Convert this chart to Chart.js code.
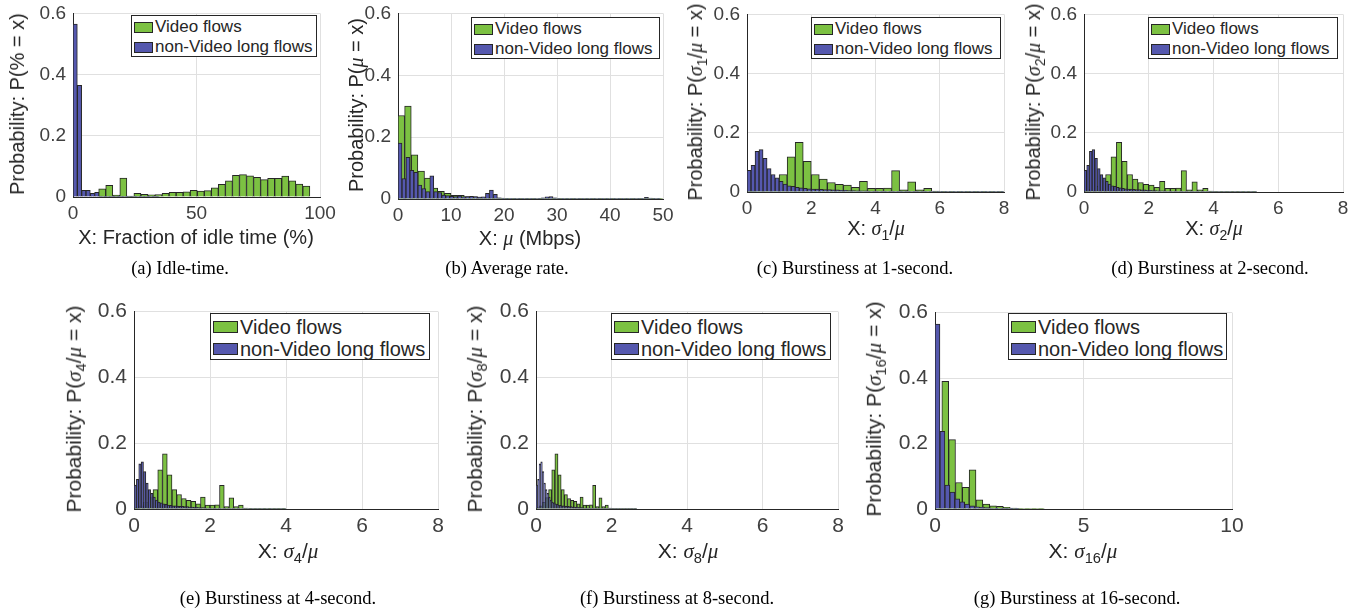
<!DOCTYPE html>
<html><head><meta charset="utf-8">
<script src="https://cdn.jsdelivr.net/npm/chart.js@4.4.1/dist/chart.umd.min.js"></script>
<style>
html,body{margin:0;padding:0;background:#fff;}
#fig{position:relative;width:1371px;height:614px;overflow:hidden;font-family:"Liberation Sans",Arial,sans-serif;color:#262626;}
#fig canvas{position:absolute;}
.legend{position:absolute;background:#fff;border:1px solid #262626;box-sizing:border-box;}
.item{position:absolute;left:2px;white-space:nowrap;display:flex;align-items:center;}
.sw{display:inline-block;box-sizing:border-box;border:1px solid #262626;margin-right:2px;}
.ytitle{position:absolute;white-space:nowrap;transform:translate(-50%,-50%) rotate(-90deg);line-height:1.2;}
.xtitle{position:absolute;white-space:nowrap;transform:translate(-50%,-50%);line-height:1.2;}
.cap{position:absolute;white-space:nowrap;transform:translate(-50%,-50%);font-family:"Liberation Serif","Times New Roman",serif;font-size:18.5px;color:#000;}
.m{font-family:"Liberation Serif",serif;font-style:italic;}
sub{font-size:70%;line-height:0;vertical-align:-0.35em;}
</style></head>
<body><div id="fig"></div>
<script>
// ---------- shared labels / ticks ----------
const seriesNames = ['Video flows', 'non-Video long flows'];
const yTicks = [0, 0.2, 0.4, 0.6];

// ---------- (a) idle time ----------
const idleTicks = [0, 50, 100];
const idleVideoStart = 10.4, idleVideoWidth = 2.85;
const idleVideo = [0.027,0.038,0.006,0.062,0.003,0.012,0.009,0.007,0.008,0.012,0.015,0.015,0.017,0.022,0.019,
                   0.021,0.030,0.041,0.053,0.071,0.073,0.069,0.064,0.057,0.061,0.061,0.068,0.053,0.042,0.036];
const idleOtherStart = 0, idleOtherWidth = 1.75;
const idleOther = [0.565,0.365,0.022,0.022,0.012,0.015,0.003,0.002,0.002,0.002,0.001,0.002,0.001,0.001,0.002,
                   0.001,0.001,0.001,0.002,0.001];

// ---------- (b) average rate ----------
const rateTicks = [0, 10, 20, 30, 40, 50];
const rateVideoStart = 0, rateVideoWidth = 1.25;
const rateVideo = [0.270,0.300,0.143,0.090,0.068,0.035,0.025,0.018,0.012,0.012,0.008,0.007,0.006,0.005,0.004,
                   0.003,0.002,0.002,0.002,0.002,0.001,0.001,0.002,0.001,0.001,0.001,0.001,0.001,0.001,0.001,
                   0.001,0.001,0.001,0.001,0.001,0.001,0.001,0.001,0.001,0.001];
const rateOtherStart = 0, rateOtherWidth = 0.75;
const rateOther = [0.181,0.066,0.135,0.093,0.086,0.045,0.034,0.024,0.075,0.024,
                   0.021,0.013,0.011,0.009,0.008,0.010,0.007,0.008,0.009,0.008,
                   0.006,0.007,0.018,0.029,0.015,0.004,0.002,0.002,0.002,0.001,
                   0.002,0.001,0.001,0.002,0.001,0.002,0.004,0.007,0.008,0.004,
                   0.001,0.001,0.002,0.001,0.001,0.001,0.001,0.002,0.001,0.001,
                   0.001,0.001,0.001,0.001,0.001,0.001,0.001,0.001,0.001,0.001,
                   0.001,0.001,0.005,0.003,0.001,0.001];

// ---------- (c)-(f) burstiness: same bin counts, bin widths differ per time scale ----------
const burstTicks = [0, 2, 4, 6, 8];
const burstVideo = [0.004,0.010,0.020,0.035,0.059,0.119,0.168,0.104,0.059,0.044,0.032,0.026,0.023,0.016,0.036,0.012,
                    0.012,0.013,0.072,0.007,0.034,0.007,0.012,0.003,0.002,0.002,0.002,0.001,0.001,0.001,0.001,0.001];
const burstOther = [0.073,0.090,0.137,0.143,0.114,0.079,0.059,0.048,0.036,0.027,0.021,0.019,0.016,0.014,0.012,0.011,
                    0.010,0.010,0.009,0.008,0.008,0.007,0.007,0.006,0.006,0.005,0.005,0.004,0.004,0.004,0.003,0.003,
                    0.003,0.003,0.002,0.002,0.002,0.002,0.002,0.002,0.002,0.001,0.001,0.001,0.001,0.001,0.001,0.001,
                    0.001,0.001,0.001,0.001,0.001,0.001,0.001,0.001,0.001,0.001,0.001,0.001,0.001,0.001,0.001,0.001];
const burstVideoWidth = { s1: 0.25, s2: 1/6, s4: 0.125, s8: 1/12 };
const burstOtherWidth = { s1: 0.125, s2: 1/12, s4: 0.0625, s8: 1/24 };

// ---------- (g) burstiness at 16 s ----------
const b16Ticks = [0, 5, 10];
const b16VideoStart = 0, b16VideoWidth = 0.23;
const b16Video = [0.050,0.390,0.212,0.081,0.066,0.120,0.028,0.015,0.010,0.008,0.005,0.003,0.002,0.002,0.001,0.001];
const b16OtherStart = 0, b16OtherWidth = 1/6;
const b16Other = [0.565,0.237,0.073,0.052,0.031,0.022,0.015,0.010,0.007,0.005,0.004,0.003,0.002,0.002,0.001,0.001,0.001];

// ---------- styling ----------
const videoColor = '#7cc142', otherColor = '#5558ae', edgeColor = '#262626';
const gridColor = '#e0e0e0', axisColor = '#262626', tickColor = '#404040';
const PT = 16, PR = 24, YW = 60, XH = 34;

const sig = (k) => '<span class="m">σ</span><sub>' + k + '</sub>/<span class="m">μ</span>';
const panels = [
  {L:73,T:11,R:320,B:197,xMax:100,xTicks:idleTicks,row:1,
   video:[idleVideoStart,idleVideoWidth,idleVideo],other:[idleOtherStart,idleOtherWidth,idleOther],
   yt:'Probability: P(% = x)',ytx:17,xt:'X: Fraction of idle time (%)',xtx:196,xty:237,
   cap:'(a) Idle-time.',capx:180,capy:268,leg:[131,15,186]},
  {L:398,T:11,R:663,B:199,xMax:50,xTicks:rateTicks,row:1,
   video:[rateVideoStart,rateVideoWidth,rateVideo],other:[rateOtherStart,rateOtherWidth,rateOther],
   yt:'Probability: P(<span class="m">μ</span> = x)',ytx:356,xt:'X: <span class="m">μ</span> (Mbps)',xtx:530,xty:238,
   cap:'(b) Average rate.',capx:507,capy:268,leg:[471,17,189]},
  {L:747,T:12,R:1004,B:192,xMax:8,xTicks:burstTicks,row:1,
   video:[0,burstVideoWidth.s1,burstVideo],other:[0,burstOtherWidth.s1,burstOther],
   yt:'Probability: P('+sig(1)+' = x)',ytx:695,xt:'X: '+sig(1),xtx:876,xty:228,
   cap:'(c) Burstiness at 1-second.',capx:855,capy:268,leg:[811,17,190]},
  {L:1084,T:12,R:1343,B:192,xMax:8,xTicks:burstTicks,row:1,
   video:[0,burstVideoWidth.s2,burstVideo],other:[0,burstOtherWidth.s2,burstOther],
   yt:'Probability: P('+sig(2)+' = x)',ytx:1033,xt:'X: '+sig(2),xtx:1214,xty:228,
   cap:'(d) Burstiness at 2-second.',capx:1210,capy:268,leg:[1148,17,190]},
  {L:134,T:308,R:438,B:509,xMax:8,xTicks:burstTicks,row:2,
   video:[0,burstVideoWidth.s4,burstVideo],other:[0,burstOtherWidth.s4,burstOther],
   yt:'Probability: P('+sig(4)+' = x)',ytx:74,xt:'X: '+sig(4),xtx:288,xty:551,
   cap:'(e) Burstiness at 4-second.',capx:278,capy:598,leg:[210,313,220]},
  {L:536,T:308,R:838,B:509,xMax:8,xTicks:burstTicks,row:2,
   video:[0,burstVideoWidth.s8,burstVideo],other:[0,burstOtherWidth.s8,burstOther],
   yt:'Probability: P('+sig(8)+' = x)',ytx:475,xt:'X: '+sig(8),xtx:688,xty:551,
   cap:'(f) Burstiness at 8-second.',capx:677,capy:598,leg:[611,313,220]},
  {L:935,T:309,R:1232,B:509,xMax:10,xTicks:b16Ticks,row:2,
   video:[b16VideoStart,b16VideoWidth,b16Video],other:[b16OtherStart,b16OtherWidth,b16Other],
   yt:'Probability: P('+sig(16)+' = x)',ytx:874,xt:'X: '+sig(16),xtx:1083,xty:551,
   cap:'(g) Burstiness at 16-second.',capx:1077,capy:598,leg:[1008,313,219]}
];

const fig = document.getElementById('fig');
function bins(start, width, vals){ return vals.map((v,i)=>({x: start + width*(i+0.5), y: v})); }
function el(tag, cls, html, style){ const e=document.createElement(tag); if(cls) e.className=cls; if(html!=null) e.innerHTML=html; Object.assign(e.style, style||{}); fig.appendChild(e); return e; }

panels.forEach(p => {
  const r1 = p.row === 1;
  const tickSize = r1 ? 19 : 21, titleSize = r1 ? 20 : 21, legSize = r1 ? 17 : 20;
  const cv = document.createElement('canvas');
  const w = p.R - p.L + YW + PR, h = p.B - p.T + PT + XH;
  cv.width = w; cv.height = h;
  cv.style.left = (p.L - YW) + 'px'; cv.style.top = (p.T - PT) + 'px';
  cv.style.width = w + 'px'; cv.style.height = h + 'px';
  fig.appendChild(cv);
  const font = {family: '"Liberation Sans", Arial, sans-serif', size: tickSize};
  const barOpts = {borderColor: edgeColor, borderWidth: 1, barPercentage: 1, categoryPercentage: 1, grouped: false};
  new Chart(cv.getContext('2d'), {
    type: 'bar',
    data: { datasets: [
      Object.assign({label: seriesNames[1], data: bins(...p.other), xAxisID: 'x2', yAxisID: 'y', backgroundColor: otherColor, order: 0}, barOpts),
      Object.assign({label: seriesNames[0], data: bins(...p.video), xAxisID: 'x', yAxisID: 'y', backgroundColor: videoColor, order: 1}, barOpts)
    ]},
    options: {
      responsive: false, animation: false, devicePixelRatio: 1,
      layout: {padding: {left: 0, top: PT, right: PR, bottom: 0}},
      plugins: {legend: {display: false}, tooltip: {enabled: false}},
      scales: {
        x: {type: 'linear', min: 0, max: p.xMax, offset: false,
            grid: {offset: false, color: gridColor, drawTicks: false},
            border: {color: axisColor, width: 1},
            ticks: {font, color: tickColor, padding: 5, maxRotation: 0},
            afterBuildTicks: s => { s.ticks = p.xTicks.map(v => ({value: v})); },
            afterFit: s => { s.height = XH; }},
        x2: {type: 'linear', display: false, min: 0, max: p.xMax, offset: false, grid: {offset: false}},
        y: {type: 'linear', min: 0, max: 0.6,
            grid: {color: gridColor, drawTicks: false},
            border: {color: axisColor, width: 1},
            ticks: {font, color: tickColor, padding: 7},
            afterBuildTicks: s => { s.ticks = yTicks.map(v => ({value: v})); },
            afterFit: s => { s.width = YW; }}
      }
    }
  });
  // axis titles
  el('div', 'ytitle', p.yt, {left: p.ytx+'px', top: ((p.T+p.B)/2)+'px', fontSize: titleSize+'px'});
  el('div', 'xtitle', p.xt, {left: p.xtx+'px', top: p.xty+'px', fontSize: titleSize+'px'});
  el('div', 'cap', p.cap, {left: p.capx+'px', top: p.capy+'px'});
  // legend
  const lh = r1 ? 20 : 22, bh = r1 ? 42 : 47;
  const lg = el('div', 'legend', null, {left: p.leg[0]+'px', top: p.leg[1]+'px', width: p.leg[2]+'px', height: bh+'px', fontSize: legSize+'px'});
  [[seriesNames[0], videoColor], [seriesNames[1], otherColor]].forEach((it, i) => {
    const d = document.createElement('div'); d.className = 'item';
    d.style.top = ((r1 ? 1 : 2) + i*lh) + 'px'; d.style.height = lh+'px'; d.style.lineHeight = lh+'px';
    const sw = document.createElement('span'); sw.className = 'sw';
    sw.style.background = it[1]; sw.style.width = (r1 ? 19 : 25)+'px'; sw.style.height = (r1 ? 11 : 12)+'px';
    d.appendChild(sw); d.appendChild(document.createTextNode(it[0]));
    lg.appendChild(d);
  });
});
</script>
</body></html>
